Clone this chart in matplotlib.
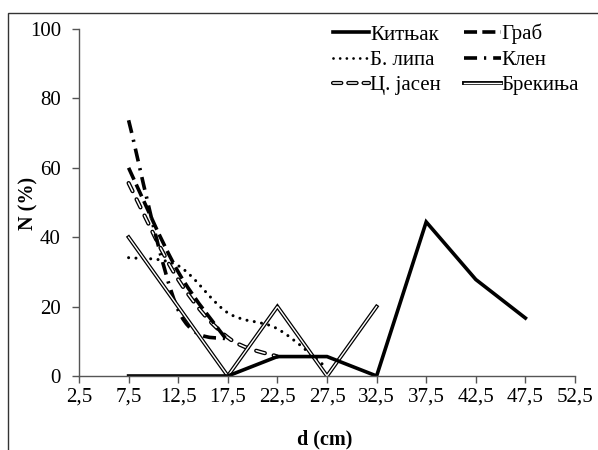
import numpy as np
import matplotlib
matplotlib.use("Agg")
from matplotlib import pyplot
from matplotlib.lines import Line2D
from matplotlib.patches import PathPatch, Rectangle
from matplotlib.path import Path

# diameter classes (cm) and share of trees N (%)
d_ticks = [2.5, 7.5, 12.5, 17.5, 22.5, 27.5, 32.5, 37.5, 42.5, 47.5, 52.5]
d_labels = ["2,5", "7,5", "12,5", "17,5", "22,5", "27,5", "32,5", "37,5", "42,5", "47,5", "52,5"]

kitnjak_d = [7.5, 12.5, 17.5, 22.5, 27.5, 32.5, 37.5, 42.5, 47.5]
kitnjak_n = [0, 0, 0, 5.6, 5.6, 0, 44.4, 27.8, 16.7]

grab_d = [7.5, 12.5, 17.5]
grab_n = [60.0, 30.0, 10.0]

lipa_d = [7.5, 12.5, 17.5, 22.5, 27.5]
lipa_n = [34.1, 31.8, 18.2, 13.6, 2.3]

klen_d = [7.5, 12.5, 17.5]
klen_n = [73.7, 19.0, 10.5]

jasen_d = [7.5, 12.5, 17.5, 22.5]
jasen_n = [55.6, 27.8, 11.1, 5.6]

brekinja_d = [7.5, 12.5, 17.5, 22.5, 27.5, 32.5]
brekinja_n = [40, 20, 0, 20, 0, 20]

pyplot.rcParams["font.family"] = ["Liberation Serif", "DejaVu Serif"]
pyplot.rcParams["lines.scale_dashes"] = False


def smooth_path(xvals, yvals):
	"""Excel-like smoothed line: cubic bezier through the data points."""
	pts = np.column_stack([xvals, yvals]).astype(float)
	n = len(pts)
	verts = [pts[0]]
	codes = [Path.MOVETO]
	for i in range(n-1):
		p0 = pts[i-1] if i > 0 else pts[i]
		p1 = pts[i]
		p2 = pts[i+1]
		p3 = pts[i+2] if i+2 < n else pts[i+1]
		verts += [p1+(p2-p0)/6, p2-(p3-p1)/6, p2]
		codes += [Path.CURVE4]*3
	return Path(verts, codes)


def add_smooth(ax, xvals, yvals, color, lw, linestyle, capstyle):
	patch = PathPatch(smooth_path(xvals, yvals), fill=False, transform=ax.transData,
		edgecolor=color, lw=lw, linestyle=linestyle, capstyle=capstyle)
	ax.add_patch(patch)


fig = pyplot.figure(figsize=(5.98, 4.5), dpi=100)
ax = fig.add_axes([79/598, 1-376/450, 496/598, 347/450])

# line styles (dash lengths in points)
dash_grab = (0, (9.4, 3.8))
dot_lipa = (0, (0.01, 5.3))
dashdot_klen = (0, (9.4, 5.0, 1.6, 5.0))
dash_jasen = (0, (6.5, 6.5))

ax.plot(brekinja_d, brekinja_n, color="black", lw=2.8, solid_joinstyle="miter")
ax.plot(brekinja_d, brekinja_n, color="white", lw=1.0, solid_joinstyle="miter")

add_smooth(ax, jasen_d, jasen_n, "black", 3.0, dash_jasen, "round")
add_smooth(ax, jasen_d, jasen_n, "white", 1.1, dash_jasen, "round")
add_smooth(ax, lipa_d, lipa_n, "black", 2.2, dot_lipa, "round")
add_smooth(ax, grab_d, grab_n, "black", 2.6, dash_grab, "butt")
add_smooth(ax, klen_d, klen_n, "black", 2.6, dashdot_klen, "butt")

ax.plot(kitnjak_d, kitnjak_n, color="black", lw=2.6, solid_joinstyle="miter")

ax.set_xlim(2.5, 52.5)
ax.set_ylim(0, 100)
ax.set_xticks(d_ticks)
ax.set_xticklabels(d_labels)
ax.set_yticks([0, 20, 40, 60, 80, 100])

for side in ("top", "right"):
	ax.spines[side].set_visible(False)
for side in ("left", "bottom"):
	ax.spines[side].set_color("#555555")
	ax.spines[side].set_linewidth(1.0)

ax.tick_params(axis="both", direction="out", length=5, width=1.0, color="#555555", labelsize=15)
ax.tick_params(axis="y", pad=8)
ax.tick_params(axis="x", pad=3)

ax.set_ylabel("N (%)", fontsize=14.5, fontweight="bold")
ax.yaxis.set_label_coords(-0.082, 0.497)
ax.set_xlabel("d (cm)", fontsize=14.5, fontweight="bold")
ax.xaxis.set_label_coords(0.495, -0.155)

# legend handles
h_kitnjak = Line2D([], [], color="black", lw=2.6)
h_grab = Line2D([], [], color="black", lw=2.6, linestyle=dash_grab, dash_capstyle="butt")
h_lipa = Line2D([], [], color="black", lw=2.0, linestyle=(0, (0.01, 4.8)), dash_capstyle="round")
h_klen = Line2D([], [], color="black", lw=2.6, linestyle=dashdot_klen, dash_capstyle="butt")
h_jasen = (Line2D([], [], color="black", lw=3.0, linestyle=(0, (6.0, 5.0)), dash_capstyle="round"),
	Line2D([], [], color="white", lw=1.1, linestyle=(0, (6.0, 5.0)), dash_capstyle="round"))
h_brek = (Line2D([], [], color="black", lw=2.8), Line2D([], [], color="white", lw=1.0))

handles = [h_kitnjak, h_lipa, h_jasen, h_grab, h_klen, h_brek]
labels = ["Китњак", "Б. липа", "Ц. јасен", "Граб", "Клен", "Брекиња"]

ax.legend(handles, labels, loc="upper left", bbox_to_anchor=(333/598, 1-24/450),
	bbox_transform=fig.transFigure, ncol=2, frameon=False, fontsize=15,
	handlelength=1.75, handletextpad=0.05, labelspacing=0.28, columnspacing=1.1, borderpad=0,
	borderaxespad=0)

# chart area border (left and top edges visible)
fig.add_artist(Rectangle((8/598, -0.1), 1.2, 1.1-13/450, transform=fig.transFigure,
	fill=False, edgecolor="#333333", lw=1.0))

fig.savefig("out.png", dpi=100)
